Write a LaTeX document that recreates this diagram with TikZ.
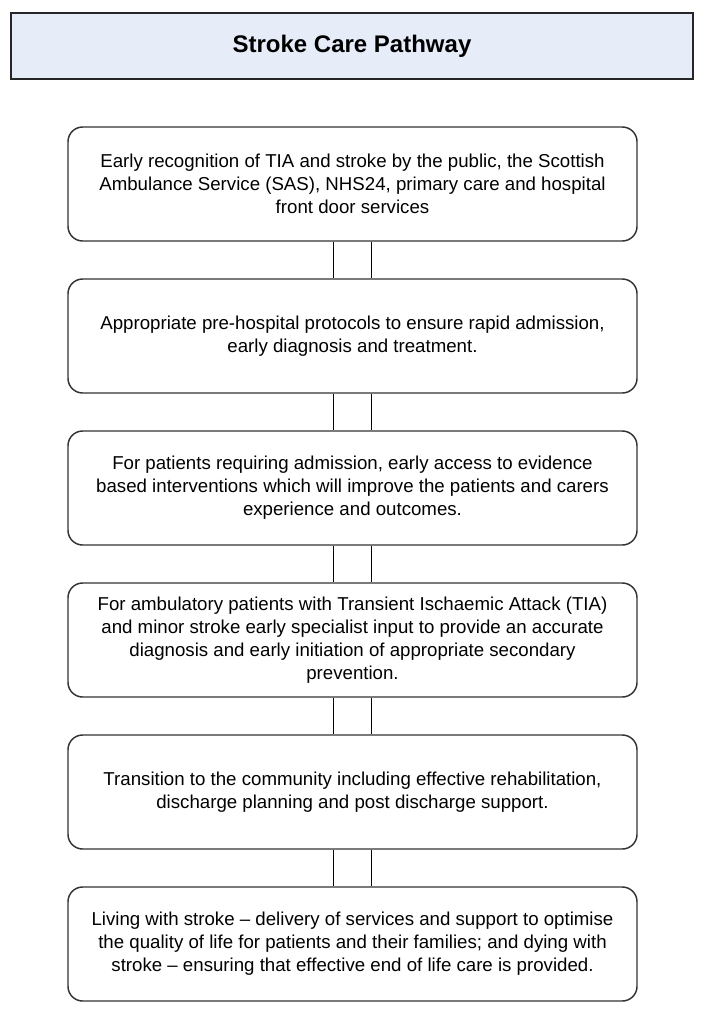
\documentclass[tikz,border=0pt]{standalone}
\usepackage{fontspec}
\setmainfont{Liberation Sans}
\usetikzlibrary{calc}
\definecolor{titlefill}{RGB}{230,237,248}
\begin{document}
\begin{tikzpicture}[x=0.75pt,y=-0.75pt,
  stagebox/.style={draw=black!80,line width=1.1pt,rounded corners=11pt,
    minimum width=569*0.75pt,minimum height=114*0.75pt,align=center,
    inner sep=0pt,font=\fontsize{14}{17.25}\selectfont},
  titlebox/.style={draw=black!85,line width=0.8pt,fill=titlefill,
    minimum width=682*0.75pt,minimum height=66*0.75pt,
    font=\fontsize{18}{20}\selectfont\bfseries},
  link/.style={draw=black,line width=0.9pt}]
\useasboundingbox (0,0) rectangle (705,1014);
\node[titlebox] (t) at (352,46) {Stroke Care Pathway};
\node[stagebox] (b1) at (352.5,184) {Early recognition of TIA and stroke by the public, the Scottish\\Ambulance Service (SAS), NHS24, primary care and hospital\\front door services};
\node[stagebox] (b2) at (352.5,336) {Appropriate pre-hospital protocols to ensure rapid admission,\\early diagnosis and treatment.};
\node[stagebox] (b3) at (352.5,488) {For patients requiring admission, early access to evidence\\based interventions which will improve the patients and carers\\experience and outcomes.};
\node[stagebox] (b4) at (352.5,640) {For ambulatory patients with Transient Ischaemic Attack (TIA)\\and minor stroke early specialist input to provide an accurate\\diagnosis and early initiation of appropriate secondary\\prevention.};
\node[stagebox] (b5) at (352.5,792) {Transition to the community including effective rehabilitation,\\discharge planning and post discharge support.};
\node[stagebox] (b6) at (352.5,944) {Living with stroke -- delivery of services and support to optimise\\the quality of life for patients and their families; and dying with\\stroke -- ensuring that effective end of life care is provided.};
\foreach \a/\b in {b1/b2,b2/b3,b3/b4,b4/b5,b5/b6}{
  \draw[link] ($(\a.south)+(-19,0)$) -- ($(\b.north)+(-19,0)$);
  \draw[link] ($(\a.south)+(19,0)$) -- ($(\b.north)+(19,0)$);
}
\end{tikzpicture}
\end{document}
